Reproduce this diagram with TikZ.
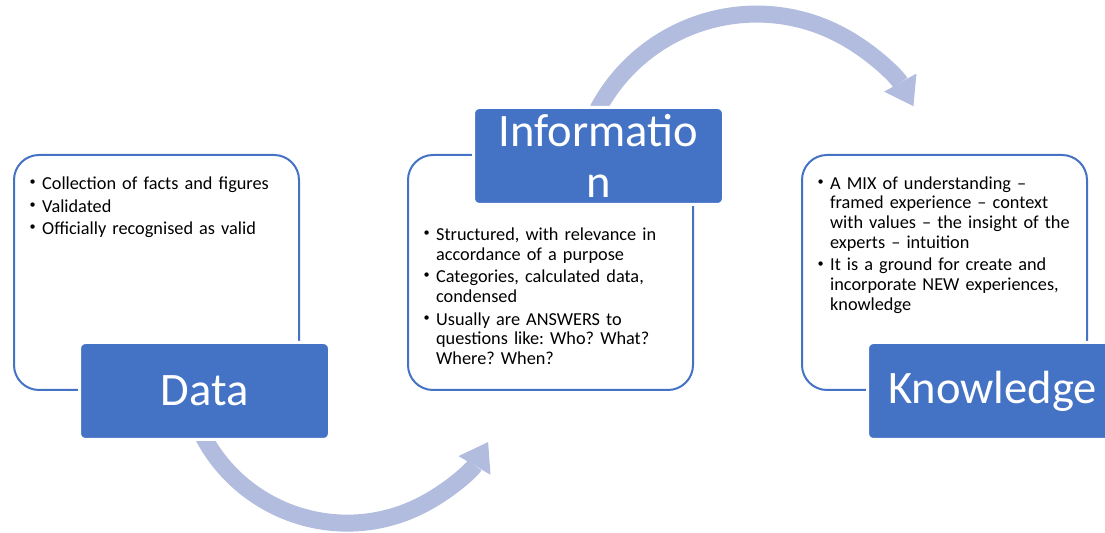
\documentclass[tikz,border=0pt]{standalone}
\usepackage{fontspec}
\setmainfont{Carlito}
\usetikzlibrary{positioning, arrows.meta, backgrounds}

\definecolor{headblue}{RGB}{68,114,196}
\definecolor{arrowblue}{RGB}{178,188,222}

\newcommand{\bitem}[1]{\par\noindent\hangindent=0.25cm\hangafter=1\makebox[0.25cm][l]{\fontsize{7}{7}\selectfont\raisebox{2.2pt}{\textbullet}}\rule{0pt}{8pt}#1}

\begin{document}
\begin{tikzpicture}[
  backbox/.style={draw=headblue, line width=0.04cm, fill=white, rounded corners=0.5cm, minimum width=5.7cm, minimum height=4.7cm},
  headbox/.style={draw=white, line width=0.06cm, fill=headblue, rounded corners=0.12cm, minimum width=5cm, minimum height=1.94cm, inner sep=0pt, text=white, align=center, font=\fontsize{26.5}{29.4}\selectfont},
  bullets/.style={anchor=north west, inner sep=0pt, text width=5.3cm, font=\fontsize{10.4}{11.2}\selectfont},
  cyclearrow/.style={draw=arrowblue, line width=0.34cm, -{Triangle[width=0.74cm, length=0.54cm, line width=0pt]}}
]
\useasboundingbox (0,0) rectangle (22.1,10.66);
\clip (0,0) rectangle (22.1,10.66);

% white boxes with the bullet lists
\node (databack) [backbox] at (3.13,5.21) {};
\node (infoback) [backbox, right=2.14cm of databack] {};
\node (knowback) [backbox, right=2.14cm of infoback] {};

% blue title boxes
\node (data) [headbox, anchor=west] at ([xshift=1.3cm]databack.south west) {Data};
\node (info) [headbox, anchor=west] at ([xshift=1.3cm, yshift=-0.04cm]infoback.north west) {Informatio\\n};
\node (know) [headbox, anchor=west] at ([xshift=1.3cm]knowback.south west) {Knowledge};

% lists
\node (datatext) [bullets] at ([xshift=0.326cm, yshift=-0.25cm]databack.north west) {\setlength{\parskip}{1.7pt}\raggedright\frenchspacing
  \bitem{Collection of facts and figures}
  \bitem{Validated}
  \bitem{Officially recognised as valid}\par};
\node (infotext) [bullets] at ([xshift=0.326cm, yshift=-1.27cm]infoback.north west) {\setlength{\parskip}{1.7pt}\raggedright\frenchspacing
  \bitem{Structured, with relevance in\newline accordance of a purpose}
  \bitem{Categories, calculated data,\newline condensed}
  \bitem{Usually are ANSWERS to\newline questions like: Who? What?\newline Where? When?}\par};
\node (knowtext) [bullets] at ([xshift=0.326cm, yshift=-0.245cm]knowback.north west) {\setlength{\parskip}{1.7pt}\raggedright\frenchspacing
  \bitem{A MIX of understanding --\newline framed experience -- context\newline with values -- the insight of the\newline experts -- intuition}
  \bitem{It is a ground for create and\newline incorporate NEW experiences,\newline knowledge}\par};

% curved arrows behind the boxes
\begin{scope}[on background layer]
\draw[cyclearrow] ([xshift=-0.1cm, yshift=0.24cm]data.south) arc[start angle=205, end angle=329.8, radius=3.26cm];
\draw[cyclearrow] ([xshift=-0.015cm, yshift=-0.07cm]info.north) arc[start angle=152, end angle=29.2, radius=3.596cm];
\end{scope}
\end{tikzpicture}
\end{document}
